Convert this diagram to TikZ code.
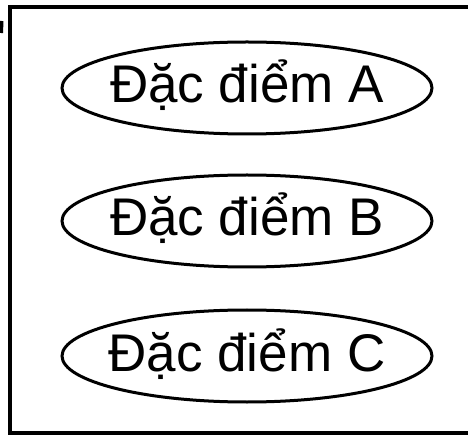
\documentclass[tikz,border=0pt]{standalone}
\usepackage{fontspec}
\setmainfont{Liberation Sans}
\begin{document}
\begin{tikzpicture}[x=1pt,y=-1pt,
  frame/.style={draw=black,line width=4.5pt},
  feat/.style={font=\fontsize{53}{60}\selectfont,text height=38pt,text depth=8pt,inner sep=0pt},
  featring/.style={draw=black,line width=3pt}]
  \useasboundingbox (0,0) rectangle (468,435);
  % outer frame (continues past the right side)
  \draw[frame] (490,7) -- (10,7) -- (10,433) -- (490,433);
  % small cut-off stroke at the upper left
  \draw[line width=4pt] (1.5,21) -- (1,33);
  % feature labels with their ellipses
  \node[feat] (fa) at (247,88) {Đặc điểm A};
  \node[feat] (fb) at (247,221) {Đặc điểm B};
  \node[feat] (fc) at (247,356) {Đặc điểm C};
  \foreach \n in {fa,fb,fc}
    \draw[featring] (\n.center) ellipse [x radius=185pt,y radius=46pt];
\end{tikzpicture}
\end{document}
